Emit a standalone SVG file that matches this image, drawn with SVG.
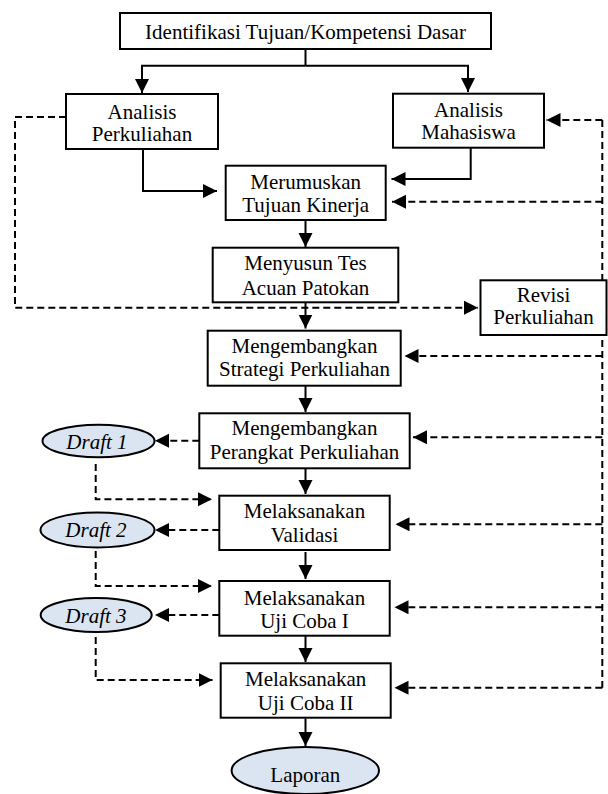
<svg xmlns="http://www.w3.org/2000/svg" width="608" height="794" viewBox="0 0 608 794">
<style>
.box{fill:#fff;stroke:#000;stroke-width:2}
.ell{fill:#dbe5f1;stroke:#000;stroke-width:2}
.t{font-family:"Liberation Serif","Times New Roman",serif;font-size:21px;fill:#000;text-anchor:middle}
.i{font-style:italic}
.s{fill:none;stroke:#000;stroke-width:2;marker-end:url(#ah)}
.sn{fill:none;stroke:#000;stroke-width:2}
.d{fill:none;stroke:#000;stroke-width:2;stroke-dasharray:7 4;marker-end:url(#ah)}
.dn{fill:none;stroke:#000;stroke-width:2;stroke-dasharray:7 4}
</style>
<defs>
<marker id="ah" markerUnits="userSpaceOnUse" markerWidth="15" markerHeight="15" refX="14" refY="7" orient="auto">
<path d="M0,0 L14,7 L0,14 z" fill="#000"/>
</marker>
</defs>
<rect width="608" height="794" fill="#fff"/>
<g id="connectors">
<path class="sn" d="M305.5,49 V65.7"/>
<path class="s" d="M305.5,65.7 H142 V93"/>
<path class="s" d="M305.5,65.7 H468 V92"/>
<path class="s" d="M143,149 V191 H217"/>
<path class="s" d="M470.7,147.7 V179 H391.5"/>
<path class="s" d="M305.5,220 V247"/>
<path class="s" d="M305.5,302.3 V328.5"/>
<path class="s" d="M305.5,385.7 V412"/>
<path class="s" d="M305.5,468.3 V494"/>
<path class="s" d="M305.5,552 V579"/>
<path class="s" d="M305.5,635.7 V662"/>
<path class="s" d="M305.5,718.5 V746"/>
<path class="d" d="M66,117 H15 V307.7 H478"/>
<path class="dn" d="M602.3,120 V687.7"/>
<path class="d" d="M602.3,120 H546.5"/>
<path class="d" d="M602.3,201.7 H392"/>
<path class="d" d="M602.3,356 H404.5"/>
<path class="d" d="M602.3,437.3 H413"/>
<path class="d" d="M602.3,524.3 H395.5"/>
<path class="d" d="M602.3,607.3 H394.5"/>
<path class="d" d="M602.3,687.7 H394.5"/>
<path class="d" d="M199.3,440.7 H155"/>
<path class="d" d="M95.7,464 V499.3 H212"/>
<path class="d" d="M219.3,530 H155"/>
<path class="d" d="M95.7,551 V586 H212"/>
<path class="d" d="M219.3,615 H155"/>
<path class="d" d="M95.7,637 V680 H212.5"/>
</g>
<g id="n-identifikasi">
<rect class="box" x="120" y="13" width="371" height="36"/>
<text class="t" x="305.5" y="39">Identifikasi Tujuan/Kompetensi Dasar</text>
</g>
<g id="n-analisis-perkuliahan">
<rect class="box" x="66" y="94" width="152" height="55"/>
<text class="t" x="142" y="119">Analisis</text>
<text class="t" x="142" y="140.7">Perkuliahan</text>
</g>
<g id="n-analisis-mahasiswa">
<rect class="box" x="393" y="93.7" width="151" height="54"/>
<text class="t" x="468.5" y="117">Analisis</text>
<text class="t" x="468.5" y="139">Mahasiswa</text>
</g>
<g id="n-merumuskan">
<rect class="box" x="225.7" y="165.7" width="160" height="54.3"/>
<text class="t" x="305.7" y="189">Merumuskan</text>
<text class="t" x="305.7" y="211.5">Tujuan Kinerja</text>
</g>
<g id="n-menyusun">
<rect class="box" x="212.7" y="247.7" width="185.6" height="54.6"/>
<text class="t" x="305.5" y="270">Menyusun Tes</text>
<text class="t" x="305.5" y="295">Acuan Patokan</text>
</g>
<g id="n-revisi">
<rect class="box" x="480.5" y="280.3" width="126" height="54.7"/>
<text class="t" x="543.5" y="301.7">Revisi</text>
<text class="t" x="543.5" y="324">Perkuliahan</text>
</g>
<g id="n-strategi">
<rect class="box" x="207.7" y="330.7" width="193" height="55"/>
<text class="t" x="304.5" y="352.7">Mengembangkan</text>
<text class="t" x="304.5" y="375.7">Strategi Perkuliahan</text>
</g>
<g id="n-perangkat">
<rect class="box" x="199.3" y="413.3" width="210.4" height="55"/>
<text class="t" x="304.5" y="435">Mengembangkan</text>
<text class="t" x="304.5" y="459.3">Perangkat Perkuliahan</text>
</g>
<g id="n-validasi">
<rect class="box" x="219.3" y="495.7" width="170.4" height="54.3"/>
<text class="t" x="304.5" y="518.3">Melaksanakan</text>
<text class="t" x="304.5" y="541.7">Validasi</text>
</g>
<g id="n-uji1">
<rect class="box" x="219.3" y="581" width="170.4" height="54.7"/>
<text class="t" x="304.5" y="604.5">Melaksanakan</text>
<text class="t" x="304.5" y="628.3">Uji Coba I</text>
</g>
<g id="n-uji2">
<rect class="box" x="220.7" y="663.3" width="170" height="54.4"/>
<text class="t" x="305.7" y="686">Melaksanakan</text>
<text class="t" x="305.7" y="710">Uji Coba II</text>
</g>
<g id="n-draft1">
<ellipse class="ell" cx="98.5" cy="441" rx="56" ry="16.2"/>
<text class="t i" x="97" y="449">Draft 1</text>
</g>
<g id="n-draft2">
<ellipse class="ell" cx="97.5" cy="530" rx="57" ry="17.5"/>
<text class="t i" x="96" y="537">Draft 2</text>
</g>
<g id="n-draft3">
<ellipse class="ell" cx="96.2" cy="615" rx="55.5" ry="17"/>
<text class="t i" x="96" y="622.7">Draft 3</text>
</g>
<g id="n-laporan">
<ellipse class="ell" cx="305.3" cy="770.5" rx="73.7" ry="23.5"/>
<text class="t" x="305.3" y="781.7">Laporan</text>
</g>
</svg>
